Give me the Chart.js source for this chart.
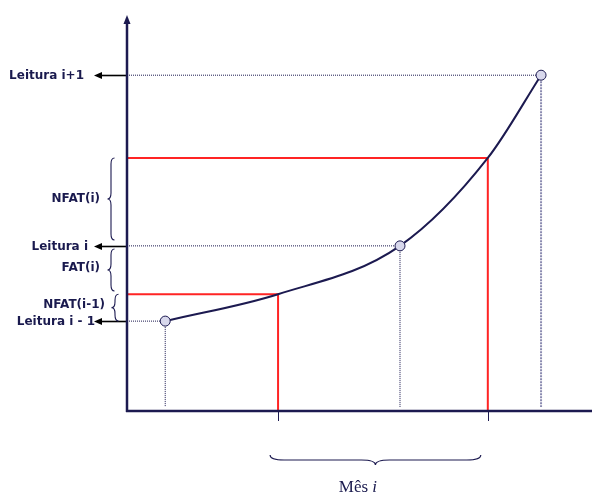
<!DOCTYPE html>
<html>
<head>
<meta charset="utf-8">
<script src="https://cdn.jsdelivr.net/npm/chart.js@4"></script>
<style>
html,body{margin:0;padding:0;background:#fff;}
#wrap{width:592px;height:496px;position:relative;}
</style>
</head>
<body>
<div id="wrap"><canvas id="c" width="592" height="496"></canvas></div>
<script>
// ---- data (diagram units) ----
const readingX = [0.84, 6.0, 9.1];          // Leitura i-1, Leitura i, Leitura i+1 (x)
const readingY = [2.27, 4.17, 8.48];        // Leitura i-1, Leitura i, Leitura i+1 (y)
const curveX = [0.84, 3.32, 6.0, 7.93, 9.1];
const curveY = [2.27, 2.95, 4.17, 6.39, 8.48];
const monthX = [3.32, 7.93];                // start / end of "Mês i"
const monthY = [2.95, 6.39];                // curve value at start / end of month
const readingLabels = ['Leitura i - 1', 'Leitura i', 'Leitura i+1'];
const braceLabels = ['NFAT(i-1)', 'FAT(i)', 'NFAT(i)'];
const braceFrom = [2.27, 3.03, 4.32];
const braceTo = [2.95, 4.09, 6.39];
const braceLabelY = [2.68, 3.61, 5.35];
const monthLabel = 'Mês';
const monthLabelVar = 'i';

const NAVY = '#1c1a50';
const RED = '#ff2424';

function pts(xs, ys){ return xs.map((v,i)=>({x:v,y:ys[i]})); }

const datasets = [];
// reading points
datasets.push({type:'scatter', data: pts(readingX, readingY), pointRadius:5, pointBackgroundColor:'#d8d8ec',
  pointBorderColor:NAVY, pointBorderWidth:1, showLine:false, order:0, clip:false});
// curve
datasets.push({type:'line', data: pts(curveX, curveY), borderColor:NAVY, borderWidth:2, pointRadius:0,
  cubicInterpolationMode:'monotone', fill:false, order:1, clip:false});
// red month boundaries
monthX.forEach((mx,i)=>{
  datasets.push({type:'line', data:[{x:0,y:monthY[i]},{x:mx,y:monthY[i]},{x:mx,y:0}], borderColor:RED,
    borderWidth:2, pointRadius:0, tension:0, fill:false, order:2, clip:false});
});
// dotted guides
readingX.forEach((rx,i)=>{
  datasets.push({type:'line', data:[{x:0,y:readingY[i]},{x:rx,y:readingY[i]}], borderColor:NAVY,
    borderWidth:1, borderDash:[1,1], pointRadius:0, tension:0, fill:false, order:3, clip:false});
  datasets.push({type:'line', data:[{x:rx,y:readingY[i]},{x:rx,y:0.1}], borderColor: i===2 ? '#8a8ab0' : NAVY,
    borderWidth: i===2 ? 2 : 1, borderDash: i===2 ? [2,1] : [1,1], pointRadius:0, tension:0, fill:false, order:3, clip:false});
});

function vBrace(ctx, x, y1, y2, w){
  const ym=(y1+y2)/2, r=Math.min(6,(y2-y1)/4);
  ctx.beginPath();
  ctx.moveTo(x+w, y1);
  ctx.quadraticCurveTo(x, y1, x, y1+r);
  ctx.lineTo(x, ym-r);
  ctx.quadraticCurveTo(x, ym, x-w, ym);
  ctx.quadraticCurveTo(x, ym, x, ym+r);
  ctx.lineTo(x, y2-r);
  ctx.quadraticCurveTo(x, y2, x+w, y2);
  ctx.stroke();
}
function hBrace(ctx, x1, x2, y, w, r){
  const xm=(x1+x2)/2;
  ctx.beginPath();
  ctx.moveTo(x1, y-w);
  ctx.quadraticCurveTo(x1, y, x1+r, y);
  ctx.lineTo(xm-r, y);
  ctx.quadraticCurveTo(xm, y, xm, y+w);
  ctx.quadraticCurveTo(xm, y, xm+r, y);
  ctx.lineTo(x2-r, y);
  ctx.quadraticCurveTo(x2, y, x2, y-w);
  ctx.stroke();
}

const diagram = {
  id:'diagram',
  afterDatasetsDraw(chart){
    const ctx = chart.ctx, xs = chart.scales.x, ys = chart.scales.y;
    const x0 = xs.getPixelForValue(0), y0 = ys.getPixelForValue(0);
    ctx.save();
    // arrows from axis to reading labels
    ctx.strokeStyle='#000'; ctx.fillStyle='#000'; ctx.lineWidth=1.6;
    readingY.forEach(v=>{
      const py = Math.round(ys.getPixelForValue(v))+0.5;
      ctx.beginPath(); ctx.moveTo(x0, py); ctx.lineTo(x0-26, py); ctx.stroke();
      ctx.beginPath(); ctx.moveTo(x0-33, py); ctx.lineTo(x0-25, py-3.5); ctx.lineTo(x0-25, py+3.5); ctx.closePath(); ctx.fill();
    });
    // axes
    ctx.strokeStyle=NAVY; ctx.fillStyle=NAVY; ctx.lineWidth=2.5;
    ctx.beginPath(); ctx.moveTo(x0, y0+1); ctx.lineTo(x0, ys.top+6); ctx.stroke();
    ctx.beginPath(); ctx.moveTo(x0-1, y0); ctx.lineTo(chart.width, y0); ctx.stroke();
    ctx.beginPath(); ctx.moveTo(x0, ys.top); ctx.lineTo(x0-3.5, ys.top+9); ctx.lineTo(x0+3.5, ys.top+9); ctx.closePath(); ctx.fill();
    // ticks below axis at month boundaries
    ctx.lineWidth=1;
    monthX.forEach(m=>{
      const px=Math.round(xs.getPixelForValue(m))+0.5;
      ctx.beginPath(); ctx.moveTo(px, y0); ctx.lineTo(px, y0+10); ctx.stroke();
    });
    // left braces
    ctx.lineWidth=1.1;
    braceFrom.forEach((f,i)=>{
      const bx = i===0 ? x0-12 : x0-16;
      vBrace(ctx, bx, ys.getPixelForValue(braceTo[i]), ys.getPixelForValue(f), 3.5);
    });
    // bottom brace
    hBrace(ctx, xs.getPixelForValue(monthX[0])-8, xs.getPixelForValue(monthX[1])-7, y0+49, 5, 14);
    // labels
    ctx.fillStyle='#1a1a4e';
    ctx.font='bold 12px "DejaVu Sans"';
    ctx.textAlign='right'; ctx.textBaseline='middle';
    const readOff=[32, 39, 43];
    readingLabels.forEach((t,i)=>{ ctx.fillText(t, x0-readOff[i], ys.getPixelForValue(readingY[i])+1); });
    const braceOff=[22, 27, 27];
    braceLabels.forEach((t,i)=>{ ctx.fillText(t, x0-braceOff[i], ys.getPixelForValue(braceLabelY[i])); });
    // Mês i
    ctx.textAlign='left'; ctx.textBaseline='alphabetic';
    ctx.font='17px "Liberation Serif"';
    const w1 = ctx.measureText(monthLabel+' ').width;
    ctx.font='italic 17px "Liberation Serif"';
    const w2 = ctx.measureText(monthLabelVar).width;
    const cx = (xs.getPixelForValue(monthX[0])+xs.getPixelForValue(monthX[1]))/2 - 25;
    const sx = cx-(w1+w2)/2;
    ctx.font='17px "Liberation Serif"';
    ctx.fillText(monthLabel+' ', sx, y0+81);
    ctx.font='italic 17px "Liberation Serif"';
    ctx.fillText(monthLabelVar, sx+w1, y0+81);
    ctx.restore();
  }
};

new Chart(document.getElementById('c'), {
  data:{datasets},
  options:{
    responsive:false, animation:false, events:[],
    layout:{padding:{left:127,right:10,top:15,bottom:85}, autoPadding:false},
    plugins:{legend:{display:false}, tooltip:{enabled:false}},
    scales:{
      x:{type:'linear', min:0, max:10, display:false},
      y:{type:'linear', min:0, max:10, display:false}
    }
  },
  plugins:[diagram]
});
</script>
</body>
</html>
